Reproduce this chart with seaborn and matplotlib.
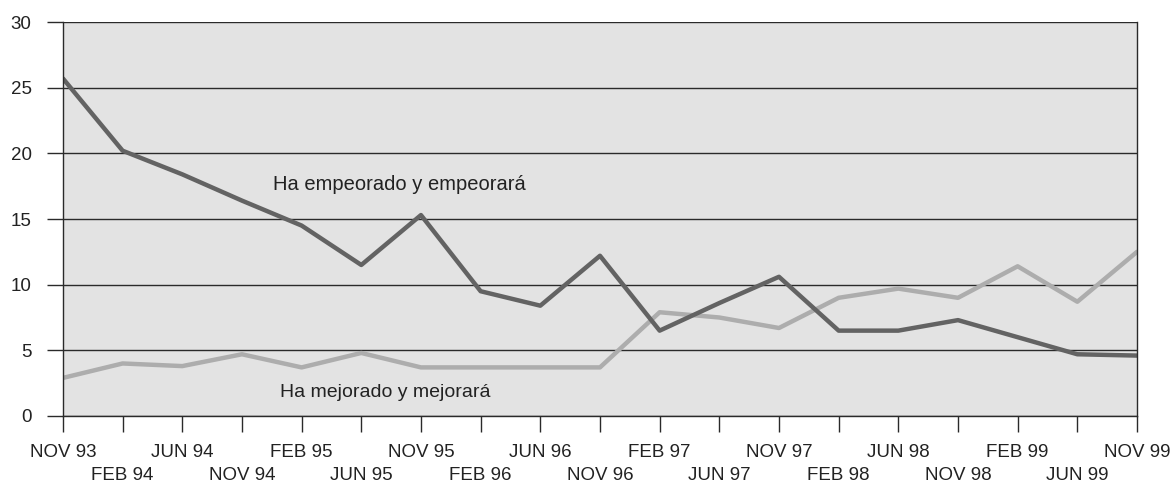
import seaborn as sns
import pandas as pd
import numpy as np
import matplotlib.pyplot as plt

periodos = ["NOV 93", "FEB 94", "JUN 94", "NOV 94", "FEB 95", "JUN 95", "NOV 95",
            "FEB 96", "JUN 96", "NOV 96", "FEB 97", "JUN 97", "NOV 97", "FEB 98",
            "JUN 98", "NOV 98", "FEB 99", "JUN 99", "NOV 99"]
empeorado = [25.7, 20.2, 18.4, 16.4, 14.5, 11.5, 15.3, 9.5, 8.4, 12.2,
             6.5, 8.6, 10.6, 6.5, 6.5, 7.3, 6.0, 4.7, 4.6]
mejorado = [2.9, 4.0, 3.8, 4.7, 3.7, 4.8, 3.7, 3.7, 3.7, 3.7,
            7.9, 7.5, 6.7, 9.0, 9.7, 9.0, 11.4, 8.7, 12.5]

serie_emp = "Ha empeorado y empeorará"
serie_mej = "Ha mejorado y mejorará"

df = pd.DataFrame({
    "pos": list(range(len(periodos))) * 2,
    "valor": empeorado + mejorado,
    "serie": [serie_emp] * len(periodos) + [serie_mej] * len(periodos),
})

sns.set_style("white")
plt.rcParams["font.family"] = ["Liberation Sans", "DejaVu Sans"]

fig = plt.figure(figsize=(11.7, 4.87), dpi=100)
ax = fig.add_axes([0.0538, 0.1458, 0.918, 0.809])
ax.set_facecolor("#e3e3e3")

sns.lineplot(data=df, x="pos", y="valor", hue="serie",
             palette={serie_emp: "#636363", serie_mej: "#adadad"},
             hue_order=[serie_mej, serie_emp],
             linewidth=3.2, legend=False, ax=ax)

ax.set_xlim(0, len(periodos) - 1)
ax.set_ylim(0, 30)
ax.set_yticks(range(0, 31, 5))
ax.yaxis.grid(True, color="#2a2a2a", linewidth=1.0)
ax.set_axisbelow(True)

# etiquetas alternadas arriba / abajo
etiquetas = [p if i % 2 == 0 else "\n" + p for i, p in enumerate(periodos)]
ax.set_xticks(range(len(periodos)))
ax.set_xticklabels(etiquetas, linespacing=1.4)

ax.tick_params(axis="both", labelsize=13.5, length=11.5, width=1.0,
               color="#2a2a2a", labelcolor="#222222")
ax.tick_params(axis="x", pad=9, bottom=True)
ax.tick_params(axis="y", pad=11, left=True)

for lado in ["left", "bottom", "right"]:
    ax.spines[lado].set_color("#2a2a2a")
    ax.spines[lado].set_linewidth(1.0)
ax.spines["top"].set_visible(False)

ax.set_xlabel("")
ax.set_ylabel("")

ax.text(3.52, 17.6, serie_emp, fontsize=14.5, color="#222222", va="center")
ax.text(3.64, 1.8, serie_mej, fontsize=14, color="#222222", va="center")

fig.savefig("out.png", dpi=100, facecolor="white")
